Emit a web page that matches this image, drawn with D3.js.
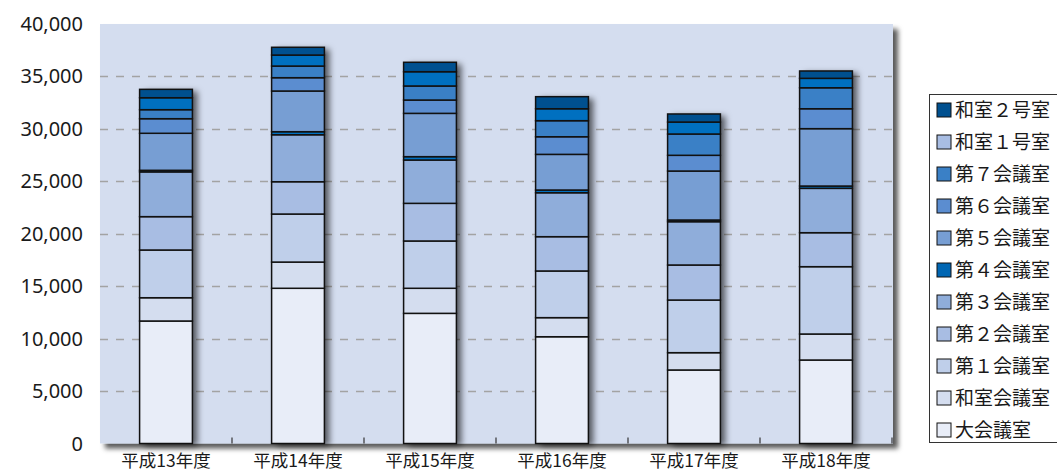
<!DOCTYPE html>
<html>
<head>
<meta charset="utf-8">
<script src="https://d3js.org/d3.v7.min.js"></script>
<style>
  body { margin: 0; background: #fff; }
  .tick-label { font-family: "Noto Sans", "Open Sans", sans-serif; font-size: 20px; fill: #1a1a1a; }
  .cat-label { font-family: "Noto Sans CJK JP", sans-serif; font-size: 17.5px; fill: #1a1a1a; }
  .legend-label { font-family: "Noto Sans CJK JP", sans-serif; font-size: 19px; fill: #1a1a1a; }
</style>
</head>
<body>
<script>
  // categories (fiscal years)
  let years = ['平成13年度', '平成14年度', '平成15年度', '平成16年度', '平成17年度', '平成18年度'];
  // rooms, bottom to top of the stack
  let rooms = ['大会議室', '和室会議室', '第１会議室', '第２会議室', '第３会議室', '第４会議室',
               '第５会議室', '第６会議室', '第７会議室', '和室１号室', '和室２号室'];
  // values per room, one per year
  let daiKaigi   = [11680, 14800, 12410, 10180, 7010, 7960];
  let washitsuK  = [2220, 2500, 2390, 1820, 1650, 2480];
  let dai1       = [4550, 4580, 4510, 4450, 5020, 6420];
  let dai2       = [3180, 3080, 3590, 3270, 3340, 3240];
  let dai3       = [4270, 4480, 4130, 4190, 4130, 4230];
  let dai4       = [150, 290, 320, 260, 160, 220];
  let dai5       = [3530, 3880, 4130, 3400, 4670, 5470];
  let dai6       = [1390, 1270, 1270, 1680, 1500, 1900];
  let dai7       = [860, 1110, 1340, 1530, 2030, 2000];
  let washitsu1  = [1140, 1050, 1360, 1140, 1140, 900];
  let washitsu2  = [800, 740, 900, 1150, 770, 700];
  let yTicks = [0, 5000, 10000, 15000, 20000, 25000, 30000, 35000, 40000];

  let series = [daiKaigi, washitsuK, dai1, dai2, dai3, dai4, dai5, dai6, dai7, washitsu1, washitsu2];
  let barColors = ['#e8edf8', '#d4ddef', '#bfcfea', '#a8bde3', '#8fadda', '#0070c0',
                   '#779ed3', '#5b8dd0', '#3a80c6', '#0070c0', '#00508f'];
  let legendColors = ['#e8edf8', '#d4ddef', '#bfcfea', '#a8bde3', '#8fadda', '#0066b3',
                      '#779ed3', '#5b8dd0', '#3a80c6', '#a8bde3', '#00508f'];

  let width = 1057, height = 473;
  let plot = {left: 100, right: 893, top: 24, bottom: 443.5};

  let svg = d3.select('body').append('svg').attr('width', width).attr('height', height);
  let defs = svg.append('defs');
  defs.append('filter').attr('id', 'plotShadow').attr('x', '-5%').attr('y', '-5%').attr('width', '115%').attr('height', '115%')
      .append('feDropShadow').attr('dx', 5).attr('dy', 5).attr('stdDeviation', 2.5)
      .attr('flood-color', '#000').attr('flood-opacity', 0.65);
  defs.append('filter').attr('id', 'barShadow').attr('x', '-20%').attr('y', '-5%').attr('width', '160%').attr('height', '115%')
      .append('feDropShadow').attr('dx', 5).attr('dy', 2).attr('stdDeviation', 3)
      .attr('flood-color', '#000').attr('flood-opacity', 0.6);

  let x = d3.scaleBand().domain(years).range([plot.left, plot.right - 1]).paddingInner(0.6).paddingOuter(0.3);
  let y = d3.scaleLinear().domain([0, 40000]).range([plot.bottom, plot.top]);

  // plot background
  svg.append('rect').attr('x', plot.left).attr('y', plot.top)
     .attr('width', plot.right - plot.left).attr('height', plot.bottom - plot.top)
     .attr('fill', '#d4ddef').attr('filter', 'url(#plotShadow)');

  // dashed gridlines
  svg.append('g').selectAll('line').data(yTicks.filter(t => t > 0 && t < 40000)).enter().append('line')
     .attr('x1', plot.left).attr('x2', plot.right)
     .attr('y1', d => Math.round(y(d)) + 0.5).attr('y2', d => Math.round(y(d)) + 0.5)
     .attr('stroke', '#a3a3a3').attr('stroke-width', 1.5).attr('stroke-dasharray', '8,8');

  // y labels
  svg.append('g').selectAll('text').data(yTicks).enter().append('text').classed('tick-label', true)
     .attr('x', 83).attr('y', d => y(d)).attr('dy', '0.35em').attr('text-anchor', 'end')
     .text(d => d3.format(',')(d));

  // small ticks between categories
  let step = x.step();
  svg.append('g').selectAll('line').data(years).enter().append('line')
     .attr('x1', d => x(d) + x.bandwidth() / 2 + step / 2).attr('x2', d => x(d) + x.bandwidth() / 2 + step / 2)
     .attr('y1', plot.bottom - 6).attr('y2', plot.bottom)
     .attr('stroke', '#333').attr('stroke-width', 1.2);

  // stacked bars
  let table = years.map((yr, i) => {
    let row = {year: yr};
    rooms.forEach((r, k) => row[r] = series[k][i]);
    return row;
  });
  let stacked = d3.stack().keys(rooms)(table);

  let barGroups = svg.append('g').selectAll('g').data(years).enter().append('g')
     .attr('filter', 'url(#barShadow)');
  barGroups.append('rect')
     .attr('x', d => x(d)).attr('width', x.bandwidth())
     .attr('y', (d, i) => y(stacked[stacked.length - 1][i][1]))
     .attr('height', (d, i) => y(0) - y(stacked[stacked.length - 1][i][1]))
     .attr('fill', '#000');

  let layers = svg.append('g').selectAll('g').data(stacked).enter().append('g')
     .attr('fill', (d, k) => barColors[k]);
  layers.selectAll('rect').data(d => d).enter().append('rect')
     .attr('x', d => x(d.data.year)).attr('width', x.bandwidth())
     .attr('y', d => y(d[1])).attr('height', d => y(d[0]) - y(d[1]))
     .attr('stroke', '#111').attr('stroke-width', 1.5);

  // category labels
  svg.append('g').selectAll('text').data(years).enter().append('text').classed('cat-label', true)
     .attr('x', d => x(d) + x.bandwidth() / 2).attr('y', 467).attr('text-anchor', 'middle')
     .text(d => d);

  // legend
  let legend = svg.append('g').attr('transform', 'translate(929, 94)');
  legend.append('rect').attr('x', 0.5).attr('y', 0.5).attr('width', 140).attr('height', 348)
        .attr('fill', '#fff').attr('stroke', '#333').attr('stroke-width', 1);
  let items = legend.selectAll('.legends').data(rooms.slice().reverse()).enter().append('g')
        .classed('legends', true)
        .attr('transform', (d, i) => 'translate(0,' + (16 + i * 32) + ')');
  items.append('rect').attr('x', 8).attr('y', -7).attr('width', 14).attr('height', 14)
       .attr('fill', d => legendColors[rooms.indexOf(d)]).attr('stroke', '#111').attr('stroke-width', 1);
  items.append('text').classed('legend-label', true).attr('x', 26).attr('dy', '0.36em').text(d => d);
</script>
</body>
</html>
